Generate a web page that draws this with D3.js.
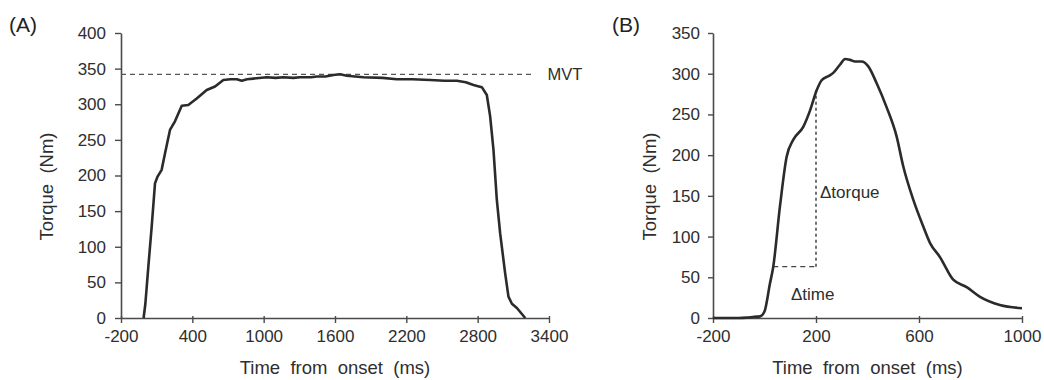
<!DOCTYPE html>
<html>
<head>
<meta charset="utf-8">
<script src="https://cdn.jsdelivr.net/npm/d3@7"></script>
<style>
  html, body { margin: 0; padding: 0; background: #fff; }
  svg { display: block; font-family: "Liberation Sans", Arial, sans-serif; }
</style>
</head>
<body>
<svg id="chart" width="1044" height="380"></svg>
<script>
// ---------- Data ----------
// Panel A: sustained maximal voluntary contraction
const timeA = [-10, 5, 30, 58, 86, 106, 142, 170, 212, 254, 311, 366, 437, 521, 591, 661, 720, 774, 816, 860, 913, 1026, 1100, 1166, 1250, 1306, 1400, 1447, 1520, 1587, 1643, 1700, 1839, 2000, 2120, 2250, 2400, 2520, 2625, 2700, 2765, 2835, 2877, 2905, 2933, 2961, 2989, 3031, 3059, 3088, 3130, 3200];
const torqueA = [0, 20, 72, 128, 189, 198, 208, 231, 264, 276, 298, 299, 308, 320, 325, 334, 335, 335, 333, 335, 336, 338, 337, 338, 337, 338, 338, 339, 339, 341, 342, 340, 338, 337, 335, 335, 334, 333, 333, 331, 327, 324, 313, 283, 236, 166, 119, 63, 30, 20, 14, 0];
const mvtValue = 342;
const mvtLabel = "MVT";

// Panel B: explosive contraction
const timeB = [-200, -100, -69, -40, -17, 0, 21, 34, 60, 86, 112, 151, 177, 203, 222, 248, 267, 293, 313, 332, 352, 377, 403, 436, 474, 513, 539, 578, 617, 643, 681, 733, 785, 837, 914, 1000];
const torqueB = [0, 0, 0.5, 1.5, 2, 8, 42, 63, 137, 198, 219, 235, 255, 280, 292, 297, 301, 311, 318, 317, 315, 315, 309, 288, 259, 223, 186, 145, 112, 92, 75, 47, 38, 26, 16, 12];
const deltaTime = [34, 200];     // start / end of Δtime segment
const deltaTorque = [63, 280];   // start / end of Δtorque segment
const deltaTorqueLabel = "Δtorque";
const deltaTimeLabel = "Δtime";

// Ticks
const ticksAx = [-200, 400, 1000, 1600, 2200, 2800, 3400];
const ticksAy = [0, 50, 100, 150, 200, 250, 300, 350, 400];
const ticksBx = [-200, 200, 600, 1000];
const ticksBy = [0, 50, 100, 150, 200, 250, 300, 350];

const panelLabels = ["(A)", "(B)"];
const xTitle = "Time  from  onset  (ms)";
const yTitle = "Torque  (Nm)";

// ---------- Drawing ----------
const svg = d3.select("#chart");
const textColor = "#2e2e2e";
const axisColor = "#4a4a4a";
const lineColor = "#2b2b2b";
const fmt = d => String(d);

function drawAxes(x, y, xTicks, yTicks, yTickSize, yPad) {
  const gx = svg.append("g")
    .attr("transform", `translate(0,${y.range()[0]})`)
    .call(d3.axisBottom(x).tickValues(xTicks).tickSize(5).tickSizeOuter(0).tickPadding(7).tickFormat(fmt));
  gx.selectAll(".tick line").attr("y1", -2);
  const gy = svg.append("g")
    .attr("transform", `translate(${x.range()[0]},0)`)
    .call(d3.axisLeft(y).tickValues(yTicks).tickSize(yTickSize).tickSizeOuter(0).tickPadding(yPad).tickFormat(fmt));
  [gx, gy].forEach(g => {
    g.select(".domain").attr("stroke", axisColor).attr("stroke-width", 1.6);
    g.selectAll(".tick line").attr("stroke", axisColor).attr("stroke-width", 1.4);
    g.selectAll(".tick text").attr("fill", textColor).attr("font-size", 17)
      .attr("font-family", '"Liberation Sans", Arial, sans-serif');
  });
}

function titles(x, y, yTitleX) {
  const cx = (x.range()[0] + x.range()[1]) / 2;
  svg.append("text").attr("x", cx).attr("y", 374).attr("text-anchor", "middle")
    .attr("font-size", 18.5).attr("fill", textColor)
    .style("white-space", "pre").text(xTitle);
  const cy = (y.range()[0] + y.range()[1]) / 2 + 11;
  svg.append("text").attr("transform", `translate(${yTitleX},${cy}) rotate(-90)`)
    .attr("text-anchor", "middle").attr("font-size", 18.5).attr("fill", textColor)
    .style("white-space", "pre").text(yTitle);
}

// Panel A
const xA = d3.scaleLinear().domain([-200, 3400]).range([121, 549]);
const yA = d3.scaleLinear().domain([0, 400]).range([318, 33]);
drawAxes(xA, yA, ticksAx, ticksAy, 6, 9);
titles(xA, yA, 53);

svg.append("line")
  .attr("x1", xA(-200)).attr("x2", xA(3270))
  .attr("y1", yA(mvtValue)).attr("y2", yA(mvtValue))
  .attr("stroke", "#555").attr("stroke-width", 1.3).attr("stroke-dasharray", "5,4");
svg.append("text").attr("x", xA(3270) + 14).attr("y", yA(mvtValue) + 6)
  .attr("font-size", 16.5).attr("fill", textColor).text(mvtLabel);

const lineA = d3.line().x((d, i) => xA(timeA[i])).y(d => yA(d)).curve(d3.curveLinear);
svg.append("path").datum(torqueA).attr("d", lineA)
  .attr("fill", "none").attr("stroke", lineColor).attr("stroke-width", 2.6).attr("stroke-linejoin", "round");

svg.append("text").attr("x", 9).attr("y", 32).attr("font-size", 21).attr("fill", "#222").text(panelLabels[0]);

// Panel B
const xB = d3.scaleLinear().domain([-200, 1000]).range([713, 1022]);
const yB = d3.scaleLinear().domain([0, 350]).range([318, 33]);
drawAxes(xB, yB, ticksBx, ticksBy, 5, 8);
titles(xB, yB, 656);

svg.append("path")
  .attr("d", `M${xB(deltaTime[0])},${yB(deltaTorque[0])}H${xB(deltaTime[1])}`)
  .attr("fill", "none").attr("stroke", "#444").attr("stroke-width", 1.3).attr("stroke-dasharray", "5,4");
svg.append("path")
  .attr("d", `M${xB(deltaTime[1])},${yB(deltaTorque[0])}V${yB(deltaTorque[1])}`)
  .attr("fill", "none").attr("stroke", "#444").attr("stroke-width", 1.5).attr("stroke-dasharray", "3,3");

const lineB = d3.line().x((d, i) => xB(timeB[i])).y(d => yB(d)).curve(d3.curveMonotoneX);
svg.append("path").datum(torqueB).attr("d", lineB)
  .attr("fill", "none").attr("stroke", lineColor).attr("stroke-width", 2.6).attr("stroke-linejoin", "round");

svg.append("text").attr("x", xB(deltaTime[1]) + 4).attr("y", yB(155) + 6)
  .attr("font-size", 17).attr("fill", textColor).text(deltaTorqueLabel);
svg.append("text").attr("x", xB(deltaTime[1]) - 25).attr("y", yB(22))
  .attr("font-size", 17).attr("fill", textColor).text(deltaTimeLabel);

svg.append("text").attr("x", 612).attr("y", 32).attr("font-size", 21).attr("fill", "#222").text(panelLabels[1]);
</script>
</body>
</html>
